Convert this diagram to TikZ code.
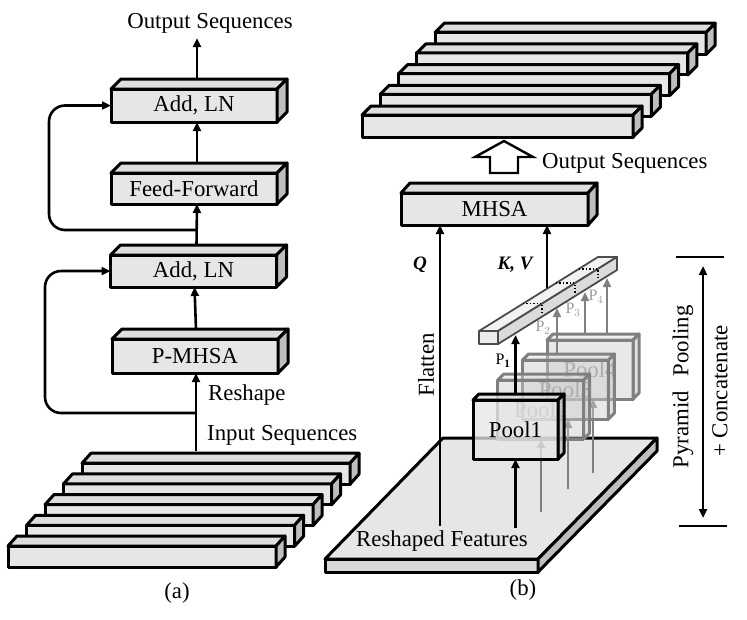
\documentclass[tikz,border=0pt]{standalone}
\usepackage{fontspec}
\setmainfont{Liberation Serif}
\usetikzlibrary{arrows.meta,calc}
\definecolor{bfront}{HTML}{E6E6E6}
\definecolor{btop}{HTML}{DEDEDE}
\definecolor{bside}{HTML}{BEBEBE}
\newcommand{\bigf}{\fontsize{22.8}{27}\selectfont}
\newcommand{\smf}{\fontsize{16}{19}\selectfont}
\newcommand{\qf}{\fontsize{19}{22}\selectfont}
% #1 name #2 cx #3 cy #4 w #5 h #6 dx #7 dy #8 style #9 text
\newcommand{\cube}[9]{%
 \node[#8, minimum width=#4pt, minimum height=#5pt] (#1) at (#2,#3) {#9};
 \draw[#8, fill=btop] (#1.north west) -- ++(#6,#7) -- ($(#1.north east)+(#6,#7)$) -- (#1.north east) -- cycle;
 \draw[#8, fill=bside] (#1.north east) -- ++(#6,#7) -- ($(#1.south east)+(#6,#7)$) -- (#1.south east) -- cycle;
}
\tikzset{
 face/.style={draw=black, line width=3pt, line join=round, fill=bfront, inner sep=0pt, outer sep=0pt, font=\bigf},
 gpool/.style={draw=black!50, line width=3pt, line join=round, fill=black!20, fill opacity=0.45, inner sep=0pt, outer sep=0pt, font=\bigf, text=black!42, text opacity=1},
 bpool/.style={draw=black, line width=3pt, line join=round, fill=bfront, fill opacity=0.75, text opacity=1, inner sep=0pt, outer sep=0pt, font=\bigf},
 arr/.style={line width=2.6pt, -{Triangle[length=9pt,width=8pt]}},
 garr/.style={line width=2.4pt, draw=black!50, -{Triangle[length=9pt,width=8pt]}},
 lbl/.style={font=\bigf, inner sep=0pt},
 plab/.style={font=\smf, inner sep=0pt},
 barst/.style={draw=black!70, line width=1.8pt, line join=round, inner sep=0pt, outer sep=0pt}
}
\begin{document}
\begin{tikzpicture}[x=1pt,y=-1pt]
\useasboundingbox (0,0) rectangle (747,619);

% ---------------- (a) ----------------
\cube{ia5}{216}{473.7}{268}{21}{9}{-10}{face}{}
\cube{ia4}{197.5}{494.4}{268}{21}{9}{-10}{face}{}
\cube{ia3}{179}{515.1}{268}{21}{9}{-10}{face}{}
\cube{ia2}{160.5}{535.8}{268}{21}{9}{-10}{face}{}
\cube{ia1}{142}{556.5}{268}{21}{9}{-10}{face}{}

\cube{addA}{194}{105.5}{166}{33}{10}{-10}{face}{Add, LN}
\cube{ff}{194}{188.5}{166}{31}{10}{-10}{face}{Feed-Forward}
\cube{addB}{193.5}{271}{166}{32}{10}{-10}{face}{Add, LN}
\cube{pm}{195}{356}{166}{34}{10}{-10}{face}{P-MHSA}

\node[lbl] (outA) at (210,23) {Output Sequences};
\node[lbl, anchor=west] (reshape) at (208,395) {Reshape};
\node[lbl, anchor=west] (inlbl) at (207,435) {Input Sequences};
\node[lbl] (la) at (177,593) {(a)};

\coordinate (ins) at (196,451);
\coordinate (j2) at (196,413);
\coordinate (j1) at (197,230);
\coordinate (otip) at (197,38);

\draw[arr] (ins) -- (ins |- pm.south);
\draw[arr] ([xshift=1pt,yshift=10pt]pm.north) -- ([xshift=1pt]addB.south);
\draw[arr] ([xshift=3pt,yshift=10pt]addB.north) -- ([xshift=3pt]ff.south);
\draw[arr] ([xshift=3pt,yshift=10pt]ff.north) -- ([xshift=3pt]addA.south);
\draw[arr] ([xshift=3pt,yshift=10pt]addA.north) -- (otip);
\draw[arr, rounded corners=16pt] (j1) -- (49,230) -- (49,105.5) -- (addA.west);
\draw[arr, rounded corners=16pt] (j2) -- (45,413) -- (45,271) -- (addB.west);

% ---------------- (b) ----------------
\cube{ob5}{570.7}{43.2}{271}{22}{9}{-9}{face}{}
\cube{ob4}{552.4}{63.9}{271}{22}{9}{-9}{face}{}
\cube{ob3}{534.1}{84.6}{271}{22}{9}{-9}{face}{}
\cube{ob2}{515.8}{105.3}{271}{22}{9}{-9}{face}{}
\cube{ob1}{497.5}{126}{271}{22}{9}{-9}{face}{}

\draw[line width=2.4pt, fill=white, line join=miter] (490,173) -- (490,157) -- (475,157) -- (504,141) -- (533,157) -- (518,157) -- (518,173) -- cycle;
\node[lbl, anchor=west] (outB) at (542,163) {Output Sequences};

\cube{mhsa}{494.5}{209}{187}{32}{9}{-10}{face}{MHSA}

% plate
\draw[face, fill=bfront] (325,559) -- (443,438) -- (657,438) -- (538,559) -- cycle;
\draw[face, fill=black!15] (325,559) rectangle (538,572);
\draw[face, fill=bside] (538,559) -- (657,438) -- (657,451) -- (538,572) -- cycle;
\node[lbl] (rf) at (442,541) {Reshaped Features};

% Q path
\coordinate (qs) at (440,526);
\draw[arr] (qs) -- (qs |- mhsa.south);
\node[font=\qf, inner sep=0pt] (q) at (420,265) {\bfseries\itshape Q};
\node[lbl, rotate=90] (flat) at (426,365) {Flatten};

% gray arrows from plate to pools
\coordinate (g2) at (541,512);
\coordinate (g3) at (568,489);
\coordinate (g4) at (593,473);
\coordinate (g1) at (515.5,528);

% pools
\cube{pool4}{590}{369.5}{86}{59}{6}{-6}{gpool}{Pool4}
\draw[garr] (g4) -- (g4 |- pool4.south);
\cube{pool3}{565.4}{389.5}{86}{59}{6}{-6}{gpool}{Pool3}
\draw[garr] (g3) -- (g3 |- pool3.south);
\cube{pool2}{540.7}{409.5}{86}{59}{6}{-6}{gpool}{Pool2}
\draw[garr] (g2) -- (g2 |- pool2.south);
\cube{pool1}{515.5}{429.5}{85}{59}{6}{-6}{bpool}{Pool1}
\draw[arr] (g1) -- (pool1.south);

% P arrows
\coordinate (p2s) at (557,354); \coordinate (p2e) at (557,308);
\coordinate (p3s) at (585,334); \coordinate (p3e) at (585,292);
\coordinate (p4s) at (607,334); \coordinate (p4e) at (607,278);
\coordinate (p1e) at (515.5,335);
\draw[garr] (p2s) -- (p2e);
\draw[garr] (p3s) -- (p3e);
\draw[garr] (p4s) -- (p4e);
\draw[arr] ([yshift=6pt]pool1.north) -- (p1e);
\node[plab] (pl1) at (503,361) {P$_{\mathbf{1}}$};
\node[plab, text=black!40] (pl2) at (543,328) {P$_2$};
\node[plab, text=black!40] (pl3) at (573,310) {P$_3$};
\node[plab, text=black!40] (pl4) at (596,297) {P$_4$};

% concatenated bar
\node[barst, fill=black!8, minimum width=19pt, minimum height=13pt] (cbar) at (488.5,337.5) {};
\draw[barst, fill=black!5] (cbar.north west) -- ++(119,-74) -- ++(19,0) -- (cbar.north east) -- cycle;
\draw[barst, fill=black!14] (cbar.north east) -- ++(119,-74) -- ++(0,13) -- (cbar.south east) -- cycle;
\draw[line width=1.4pt, dotted] (523.0,303.6) -- ++(19,0) -- ++(0,11);
\draw[line width=1.4pt, dotted] (556.0,283.1) -- ++(19,0) -- ++(0,11);
\draw[line width=1.4pt, dotted] (579.0,268.8) -- ++(19,0) -- ++(0,11);

\coordinate (kvs) at (547,288);
\draw[arr] (kvs) -- (kvs |- mhsa.south);
\node[font=\qf, inner sep=0pt] (kv) at (515,265) {\bfseries\itshape K, V};

% bracket
\coordinate (bt1) at (676,257); \coordinate (bt2) at (724,257);
\coordinate (bb1) at (679,526); \coordinate (bb2) at (727,526);
\coordinate (da1) at (703,266); \coordinate (da2) at (703,518);
\draw[line width=2.8pt] (bt1) -- (bt2);
\draw[line width=2.8pt] (bb1) -- (bb2);
\draw[line width=2.6pt, {Triangle[length=9pt,width=8pt]}-{Triangle[length=9pt,width=8pt]}] (da1) -- (da2);
\node[lbl, rotate=90] (pp) at (683,387) {Pyramid\hspace{0.4em} Pooling};
\node[lbl, rotate=90] (cc) at (720,391) {+ Concatenate};

\node[lbl] (lb) at (523,590) {(b)};
\end{tikzpicture}
\end{document}
